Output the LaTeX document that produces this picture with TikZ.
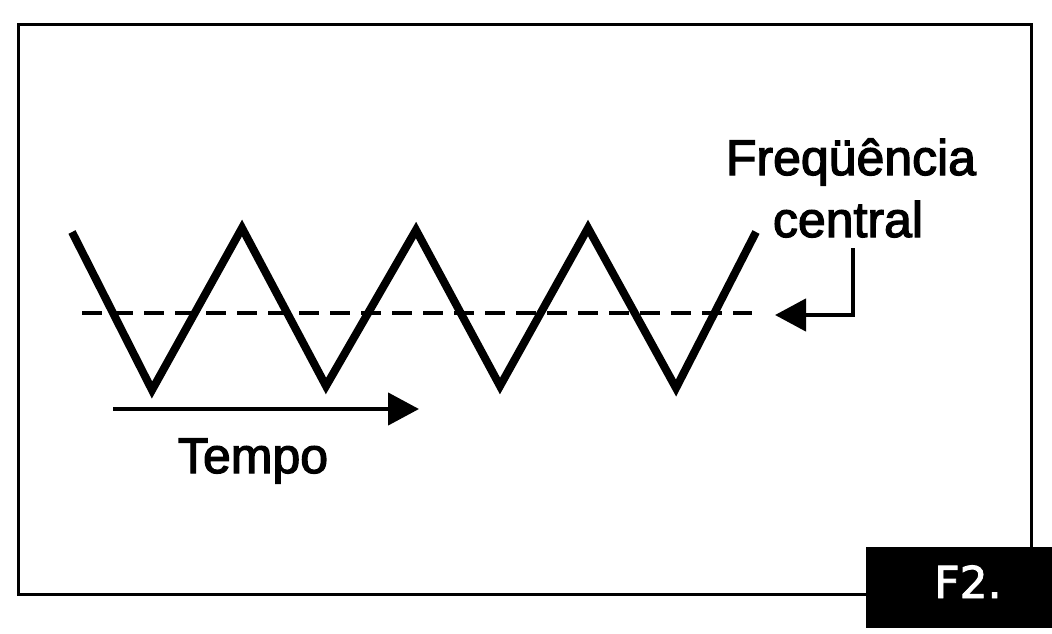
\documentclass[tikz,border=0pt]{standalone}
\usepackage{fontspec}
\setmainfont{Liberation Sans}
\newfontfamily\heavyfont[FakeBold=2.5]{Liberation Sans}
\newfontfamily\labelfont[FakeBold=2.0]{DejaVu Sans}
\usetikzlibrary{arrows.meta}
\begin{document}
\begin{tikzpicture}[x=1pt,y=-1pt,
  wave/.style={line width=8pt, line join=miter, line cap=butt},
  midline/.style={line width=3.5pt, dash pattern=on 20pt off 11pt},
  pointer/.style={line width=4.5pt, -{Triangle[length=31pt,width=32pt]}},
  lbl/.style={font=\heavyfont\fontsize{50}{56}\selectfont, inner sep=0pt, anchor=base},
  framebox/.style={line width=3pt},
  tagbox/.style={fill=black, draw=none}]
\useasboundingbox (0,0) rectangle (1052,633);
\fill[white] (0,0) rectangle (1052,633);
% frame
\draw[framebox] (18,24) rectangle (1031,594);
% triangle wave
\draw[wave] (72,232) -- (152,390) -- (242,228) -- (326,386) -- (416,230) -- (500,386) -- (588,228) -- (676,388) -- (756,232);
% central frequency dashed line
\coordinate (m1) at (82,313);
\coordinate (m2) at (752,313);
\draw[midline] (m1) -- (m2);
% labels
\node[lbl] (freq) at (851,175) {Freqüência};
\node[lbl] (cent) at (848,237) {central};
\node[lbl] (tempo) at (253,473) {Tempo};
% pointer to central frequency
\coordinate (c1) at (853,248);
\coordinate (c2) at (853,315);
\coordinate (c3) at (775,315);
\draw[pointer] (c1) -- (c2) -- (c3);
% time arrow
\coordinate (t1) at (113,409);
\coordinate (t2) at (419,409);
\draw[pointer] (t1) -- (t2);
% tag
\fill[tagbox] (866,547) rectangle (1052,628);
\node[inner sep=0pt, anchor=base, text=white, font=\labelfont\fontsize{44}{50}\selectfont] (tag) at (968,598) {F2.};
\end{tikzpicture}
\end{document}
